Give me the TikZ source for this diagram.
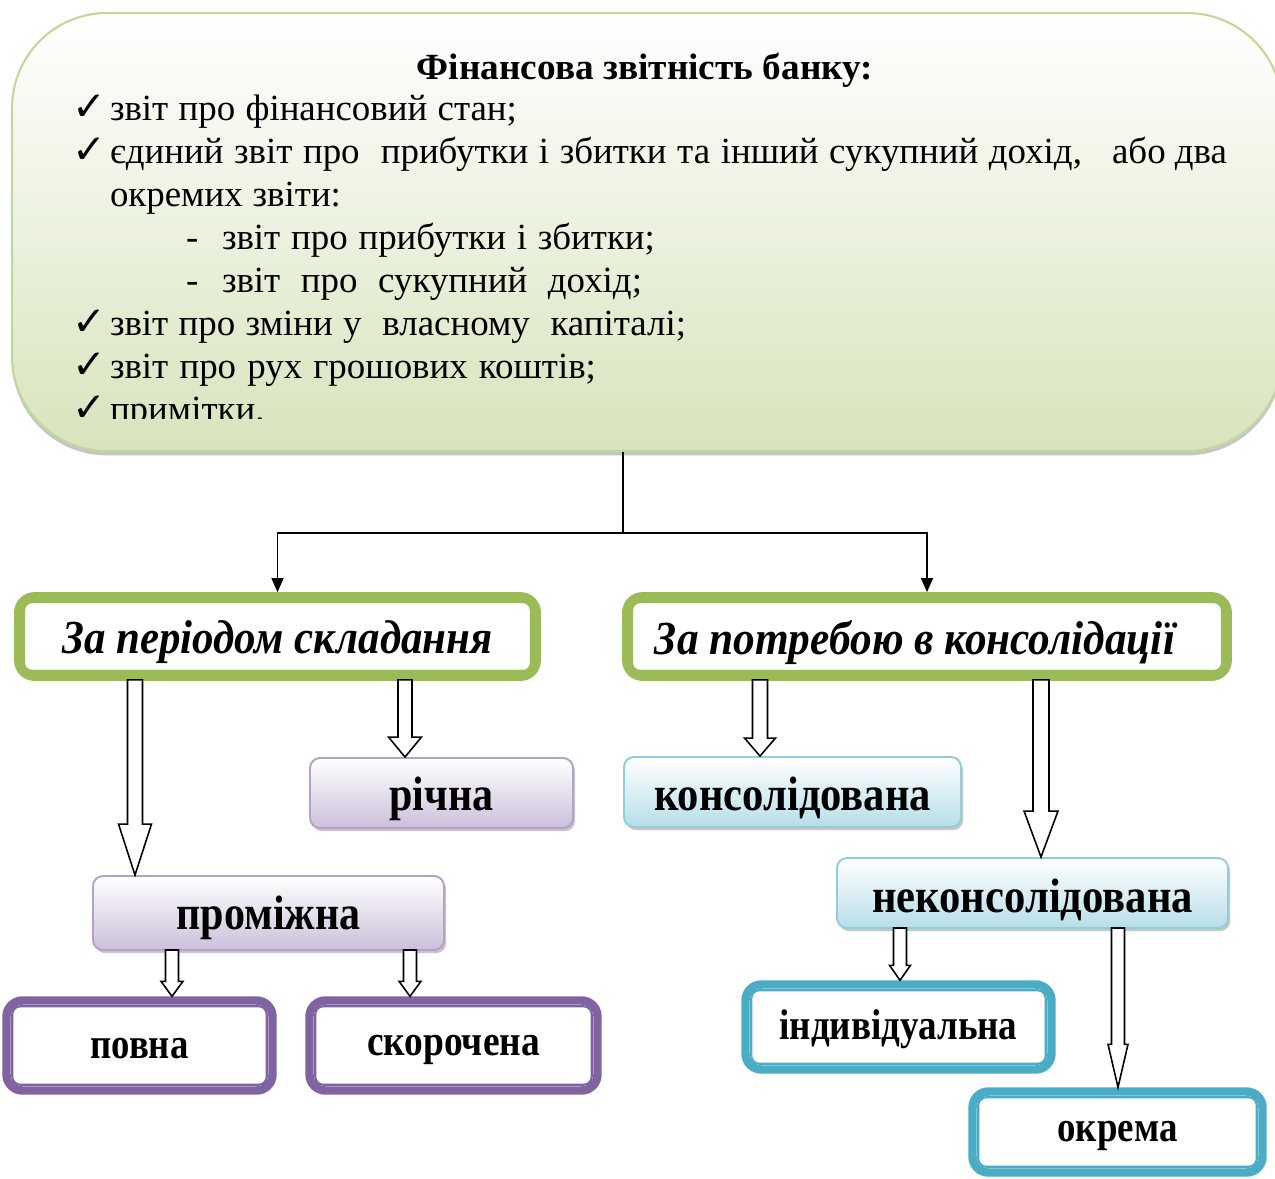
\documentclass[tikz,border=0pt]{standalone}
\usepackage{fontspec}
\setmainfont{Liberation Serif}
\newfontfamily\symfont{DejaVu Sans}
\usetikzlibrary{calc,arrows.meta,shadows}

\newlength\pxl
\setlength\pxl{0.02cm}

\definecolor{topfill}{HTML}{D7E4BD}
\definecolor{topline}{HTML}{C3D69B}
\definecolor{grn}{HTML}{9BBB59}
\definecolor{prp}{HTML}{8064A2}
\definecolor{lav}{HTML}{CCC0DA}
\definecolor{lavline}{HTML}{B3A2C7}
\definecolor{blu}{HTML}{4BACC6}
\definecolor{lblu}{HTML}{B7DEE8}
\definecolor{lbluline}{HTML}{92CDDC}

\newcommand\bodyfont{\fontsize{21}{25}\selectfont}
% text squeezed to a given width (px), shifted down by a given amount (px)
\newcommand\fitw[3][0]{\raisebox{-#1\pxl}[\height][\depth]{\resizebox{#2\pxl}{\height}{#3}}}

% hollow block arrow: source, target, x (px), shaft half width, head half width, head length
\newcommand\hollowarrow[6]{%
  \path[hollow] let \p1=(#1.south), \p2=(#2.north) in
    ({(#3-#4)*\pxl},{\y1+1*\pxl}) -- ({(#3-#4)*\pxl},{\y2+#6*\pxl})
    -- ({(#3-#5)*\pxl},{\y2+#6*\pxl}) -- ({#3*\pxl},\y2)
    -- ({(#3+#5)*\pxl},{\y2+#6*\pxl}) -- ({(#3+#4)*\pxl},{\y2+#6*\pxl})
    -- ({(#3+#4)*\pxl},{\y1+1*\pxl}) -- cycle;}

\begin{document}
\begin{tikzpicture}[x=0.02cm,y=-0.02cm,
  txt/.style={inner sep=0pt, outer sep=0pt, font=\bodyfont},
  chk/.style={inner sep=0pt, outer sep=0pt, font=\symfont\bfseries\fontsize{23}{26}\selectfont},
  topbox/.style={rectangle, rounded corners=1.9cm, draw=topline, line width=1.2pt,
    top color=white, bottom color=topfill, inner sep=0pt,
    drop shadow={shadow xshift=0pt, shadow yshift=-2.5pt, fill=black!45, opacity=0.5}},
  headbox/.style={rectangle, rounded corners=0.32cm, draw=grn, line width=5pt, fill=white,
    inner sep=0pt, font=\fontsize{27}{30}\selectfont\bfseries\itshape},
  ringbox/.style={rectangle, rounded corners=0.32cm, draw=#1, line width=4.8pt, fill=white,
    inner sep=0pt, font=\fontsize{24.5}{28}\selectfont\bfseries},
  gradbox/.style 2 args={rectangle, rounded corners=0.2cm, draw=#2, line width=1.1pt,
    top color=white, bottom color=#1, inner sep=0pt,
    font=\fontsize{27.5}{30}\selectfont\bfseries,
    drop shadow={shadow xshift=1.2pt, shadow yshift=-1.8pt, fill=black!50, opacity=0.45}},
  innerline/.style={draw=#1, line width=1.2pt, rounded corners=0.16cm},
  hollow/.style={draw=black, fill=white, line width=0.9pt, line join=miter},
  link/.style={draw=black, line width=0.9pt},
  linkarrow/.style={link, -{Triangle[length=0.28cm, width=0.24cm]}}]

\useasboundingbox (0,0) rectangle (1275,1178);
\clip (0,0) rectangle (1275,1178);

% ---- summary panel ----
\node[topbox, minimum width=1270\pxl, minimum height=438\pxl] (fin) at (647,232) {};

\begin{scope}
\clip (0,0) rectangle (1275,418);
\node[txt, anchor=base, font=\bodyfont\bfseries] (t0) at (645,79) {\fitw{456}{Фінансова звітність банку:}};
\node[chk, anchor=base west] (c1) at (72,120) {✓};
\node[txt, anchor=base west] (l1) at (110,120) {\makebox[407\pxl][s]{звіт про фінансовий стан;}};
\node[chk, anchor=base west] (c2) at (72,163) {✓};
\node[txt, anchor=base west] (l2) at (110,163) {\makebox[972\pxl][s]{єдиний звіт про\ \ прибутки і збитки та інший сукупний дохід,}};
\node[txt, anchor=base east] (l2b) at (1227,163) {або два};
\node[txt, anchor=base west] (l3) at (110,206) {\makebox[231\pxl][s]{окремих звіти:}};
\node[txt, anchor=base west] (d1) at (186,249) {-};
\node[txt, anchor=base west] (l4) at (222,249) {\makebox[433\pxl][s]{звіт про прибутки і збитки;}};
\node[txt, anchor=base west] (d2) at (186,292) {-};
\node[txt, anchor=base west] (l5) at (222,292) {\makebox[420\pxl][s]{звіт про сукупний дохід;}};
\node[chk, anchor=base west] (c3) at (72,335) {✓};
\node[txt, anchor=base west] (l6) at (110,335) {\makebox[576\pxl][s]{звіт про зміни у\ \ власному\ \ капіталі;}};
\node[chk, anchor=base west] (c4) at (72,378) {✓};
\node[txt, anchor=base west] (l7) at (110,378) {\makebox[486\pxl][s]{звіт про рух грошових коштів;}};
\node[chk, anchor=base west] (c5) at (72,421) {✓};
\node[txt, anchor=base west] (l8) at (110,421) {примітки.};
\end{scope}

% ---- classification headers ----
\node[headbox, minimum width=518\pxl, minimum height=80\pxl] (per) at (277.5,636.5)
  {\fitw[6]{430}{За періодом складання}};
\node[headbox, minimum width=601\pxl, minimum height=80\pxl] (need) at (927,636.5)
  {\fitw[6]{520}{За потребою в консолідації}\hspace*{24\pxl}};

% ---- gradient boxes ----
\node[gradbox={lav}{lavline}, minimum width=263\pxl, minimum height=70\pxl] (year) at (441.5,793) {\fitw[6]{104}{річна}};
\node[gradbox={lav}{lavline}, minimum width=351\pxl, minimum height=74\pxl] (interim) at (268.5,913) {\fitw[5]{184}{проміжна}};
\node[gradbox={lblu}{lbluline}, minimum width=337\pxl, minimum height=70\pxl] (cons) at (792.5,792) {\fitw[6]{277}{консолідована}};
\node[gradbox={lblu}{lbluline}, minimum width=391\pxl, minimum height=70\pxl] (noncons) at (1032.5,893) {\fitw[7]{321}{неконсолідована}};

% ---- framed boxes ----
\node[ringbox=prp, minimum width=266\pxl, minimum height=90\pxl] (full) at (139.5,1045.5) {\fitw[3]{98}{повна}};
\node[ringbox=prp, minimum width=288\pxl, minimum height=90\pxl] (short) at (453.5,1045.5) {\fitw[4]{173}{скорочена}};
\node[ringbox=blu, minimum width=306\pxl, minimum height=85\pxl] (indiv) at (898.5,1027) {\fitw[2]{238}{індивідуальна}};
\node[ringbox=blu, minimum width=290\pxl, minimum height=81\pxl] (sep) at (1117.5,1132) {\fitw[4]{120}{окрема}};

% thin inner rules of the framed boxes
\foreach \nd/\cl in {per/grn, need/grn, full/prp, short/prp, indiv/blu, sep/blu}
  \draw[innerline=\cl] ($(\nd.north west)+(10,10)$) rectangle ($(\nd.south east)+(-10,-10)$);

% ---- links from the panel ----
\coordinate (j) at (623,533);
\draw[link] (fin.south -| j) -- (j);
\draw[linkarrow] (j) -| (per.north);
\draw[linkarrow] (j) -| (need.north);

% ---- hollow arrows ----
\hollowarrow{per}{interim}{135}{7.5}{16.5}{51}
\hollowarrow{per}{year}{405}{7}{16.5}{20}
\hollowarrow{need}{cons}{760}{7.5}{15.5}{18}
\hollowarrow{need}{noncons}{1041}{8}{17}{46}
\hollowarrow{interim}{full}{172}{6.5}{11}{15}
\hollowarrow{interim}{short}{410}{6.5}{11}{15}
\hollowarrow{noncons}{indiv}{900}{6.5}{10.5}{15}
\hollowarrow{noncons}{sep}{1118}{6.5}{10}{43}

\end{tikzpicture}
\end{document}
